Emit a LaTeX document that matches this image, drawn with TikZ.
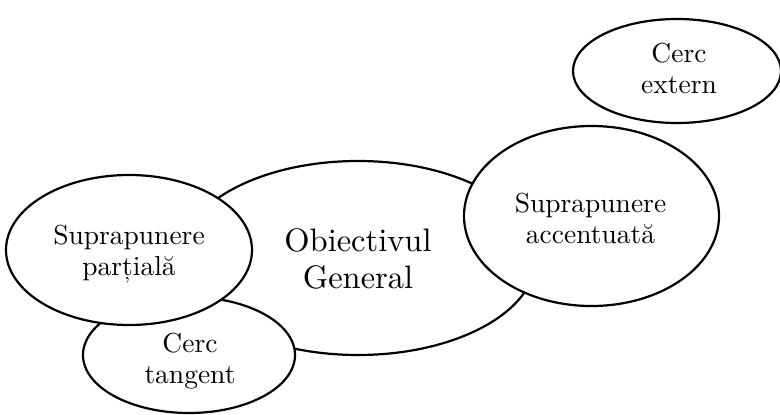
\documentclass[tikz,border=0pt]{standalone}
\usepackage{fontspec}
% Latin Modern in its 10pt design at every size, for a sturdier text colour
\setmainfont{lmroman10-regular}[Extension=.otf]
\usetikzlibrary{shapes.geometric}
\begin{document}
\begin{tikzpicture}[x=1pt,y=-1pt,
  bubble/.style={ellipse, draw=black, line width=2.2pt, fill=white,
    inner sep=0pt, outer sep=0pt},
  lbl/.style={inner sep=0pt, align=center,
    font=\fontsize{27.5}{31}\selectfont},
  biglbl/.style={lbl, font=\fontsize{32.5}{37.5}\selectfont}
]
\useasboundingbox (0,0) rectangle (780,415);

% central goal, drawn first so the overlapping circles sit on top of it
\node[bubble, minimum width=356pt, minimum height=194pt] (obj) at (358,258) {};
\node[biglbl] (objtxt) at ([yshift=-1pt]obj.center) {Obiectivul\\General};

% strongly overlapping circle on the right
\node[bubble, minimum width=255pt, minimum height=180pt] (accent) at (591.5,216) {};
\node[lbl] (accenttxt) at ([xshift=-1pt,yshift=-2pt]accent.center)
  {Suprapunere\\accentuată};

% tangent circle below, partly hidden by the partial overlap
\node[bubble, minimum width=212pt, minimum height=116pt] (tang) at (189,355) {};
\node[lbl] (tangtxt) at ([xshift=1pt,yshift=-6pt]tang.center) {Cerc\\tangent};

% partially overlapping circle on the left
\node[bubble, minimum width=246pt, minimum height=150pt] (partial) at (129,250) {};
\node[lbl] (partialtxt) at ([yshift=-4.5pt]partial.center) {Suprapunere\\parțială};

% external circle, detached in the top right corner
\node[bubble, minimum width=208pt, minimum height=104pt] (ext) at (677,71) {};
\node[lbl] (exttxt) at ([xshift=2pt,yshift=3pt]ext.center) {Cerc\\extern};
\end{tikzpicture}
\end{document}
